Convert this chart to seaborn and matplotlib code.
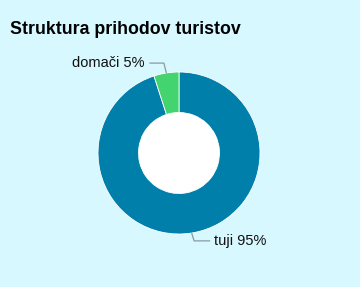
import numpy as np
import matplotlib
matplotlib.use("Agg")
import matplotlib.pyplot as plt
import seaborn as sns

categories = ["tuji", "domači"]
values = [95, 5]
labels = ["tuji 95%", "domači 5%"]
title = "Struktura prihodov turistov"

sns.set_theme(style="white")
plt.rcParams['font.family'] = ['Liberation Sans', 'DejaVu Sans']

bg = "#d6f8fe"
colors = ["#007fab", "#43d46f"]

fig = plt.figure(figsize=(3.6, 2.87), dpi=100, facecolor=bg)
W, H = 360, 287
cx, cy, R = 179, 153, 81
ax = fig.add_axes([(cx - R) / W, (H - cy - R) / H, 2 * R / W, 2 * R / H])
ax.set_facecolor(bg)

wedges, _ = ax.pie(values, colors=colors, startangle=90, counterclock=False,
                   radius=1, wedgeprops=dict(width=0.5, edgecolor="white", linewidth=0.6))
ax.add_patch(plt.Circle((0, 0), 0.5, color="white", zorder=0))
ax.set_xlim(-1, 1)
ax.set_ylim(-1, 1)
ax.set_aspect("equal")
ax.axis("off")

line_c = "#8a9aa0"
for w, lab in zip(wedges, labels):
    ang = np.deg2rad((w.theta1 + w.theta2) / 2)
    x0, y0 = np.cos(ang), np.sin(ang)
    if y0 > 0:
        ex, ey = x0 - 0.03, 1.11
        hx = -0.36
        tx, ha = -0.43, "right"
    else:
        ex, ey = x0 + 0.03, -1.085
        hx = 0.38
        tx, ha = 0.43, "left"
    ax.plot([x0, ex, hx], [y0, ey, ey], color=line_c, lw=0.9, clip_on=False)
    ax.text(tx, ey, lab, ha=ha, va="center", fontsize=10.5, color="#111111", clip_on=False)

fig.text(10 / W, 1 - 30 / H, title, fontsize=12.8, fontweight="bold", ha="left", va="center", color="#000000")

fig.savefig("out.png", dpi=100, facecolor=bg)
